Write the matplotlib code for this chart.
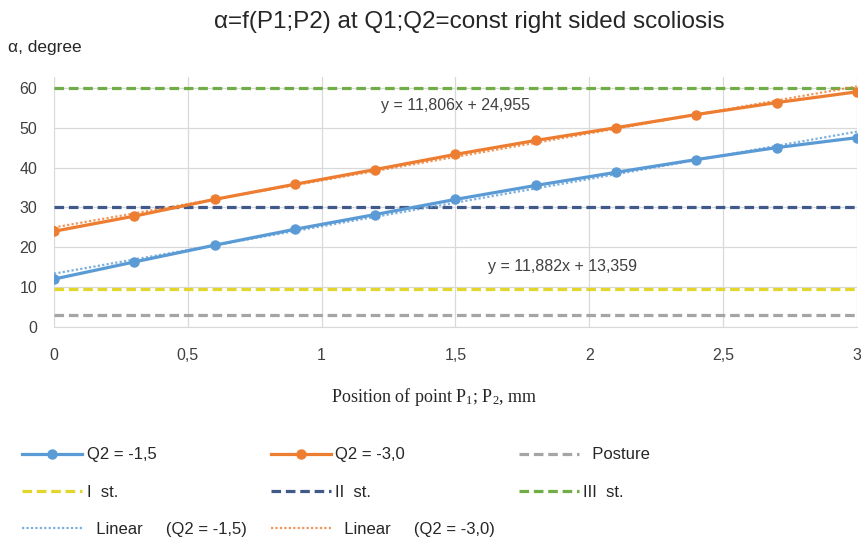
import matplotlib
matplotlib.use('Agg')
import matplotlib.pyplot as plt
from matplotlib.lines import Line2D
import numpy as np

# data
x = [0, 0.3, 0.6, 0.9, 1.2, 1.5, 1.8, 2.1, 2.4, 2.7, 3.0]
q2_15 = [12, 16.3, 20.5, 24.5, 28.2, 32, 35.5, 38.8, 42, 45, 47.5]
q2_30 = [24, 27.8, 32, 35.8, 39.5, 43.3, 46.8, 50, 53.3, 56.3, 59]

posture = 3
st1 = 9.5
st2 = 30
st3 = 60

fit_15 = (11.882, 13.359)
fit_30 = (11.806, 24.955)

xticks = [0, 0.5, 1, 1.5, 2, 2.5, 3]
xticklabels = ['0', '0,5', '1', '1,5', '2', '2,5', '3']
yticks = [0, 10, 20, 30, 40, 50, 60]

BLUE = '#5b9bd5'
ORANGE = '#ed7d31'
GRAY = '#a5a5a5'
YELLOW = '#e3d62a'
NAVY = '#3f5a8a'
GREEN = '#70ad47'
TXT = '#262626'

plt.rcParams['font.family'] = ['Liberation Sans', 'DejaVu Sans']
plt.rcParams['mathtext.fontset'] = 'custom'
plt.rcParams['mathtext.rm'] = 'Liberation Serif'
plt.rcParams['mathtext.it'] = 'Liberation Serif'

fig = plt.figure(figsize=(8.62, 5.43), dpi=100)
ax = fig.add_axes([0.0626, 0.398, 0.9314, 0.46])

dash = (0, (3, 1.5))
dots = (0, (1, 1))
xs = np.array([0, 3])

ax.axhline(posture, color=GRAY, lw=2.3, ls=dash, zorder=2)
ax.axhline(st1, color=YELLOW, lw=2.3, ls=dash, zorder=2)
ax.axhline(st2, color=NAVY, lw=2.3, ls=dash, zorder=2)
ax.axhline(st3, color=GREEN, lw=2.3, ls=dash, zorder=2)

ax.plot(x, q2_15, color=BLUE, lw=2.3, marker='o', ms=6.5, zorder=4)
ax.plot(x, q2_30, color=ORANGE, lw=2.3, marker='o', ms=6.5, zorder=4)
ax.plot(xs, fit_15[0] * xs + fit_15[1], color=BLUE, lw=1.6, ls=dots, alpha=0.8, zorder=5)
ax.plot(xs, fit_30[0] * xs + fit_30[1], color=ORANGE, lw=1.6, ls=dots, alpha=0.8, zorder=5)

ax.text(1.50, 55.6, 'y = 11,806x + 24,955', fontsize=11.5, color='#404040', ha='center', va='center')
ax.text(1.90, 15.2, 'y = 11,882x + 13,359', fontsize=11.5, color='#404040', ha='center', va='center')

ax.set_xlim(0, 3)
ax.set_ylim(0, 62.7)
ax.set_xticks(xticks)
ax.set_xticklabels(xticklabels)
ax.set_yticks(yticks)
ax.tick_params(length=0, labelsize=11.5, labelcolor='#404040')
ax.tick_params(axis='x', pad=15)
ax.tick_params(axis='y', pad=12)
ax.grid(True, color='#d9d9d9', lw=0.9)
for s in ['top', 'right', 'left']:
    ax.spines[s].set_visible(False)
ax.spines['bottom'].set_color('#d9d9d9')
ax.set_axisbelow(True)

fig.text(0.545, 0.960, 'α=f(P1;P2) at Q1;Q2=const right sided scoliosis', fontsize=17.5,
         ha='center', va='center', color=TXT)
fig.text(0.009, 0.913, 'α, degree', fontsize=12.5, ha='left', va='center', color=TXT)
fig.text(0.504, 0.268, r'Position of point P$_1$; P$_2$, mm', fontsize=13, ha='center', va='center',
         family=['Liberation Serif', 'DejaVu Serif'], color=TXT)

# legend, one column at a time
columns = [
    (0.026, [Line2D([], [], color=BLUE, lw=2.3, marker='o', ms=6.5),
             Line2D([], [], color=YELLOW, lw=2.3, ls=dash),
             Line2D([], [], color=BLUE, lw=1.6, ls=dots, alpha=0.8)],
     ['Q2 = -1,5', 'I  st.', '  Linear     (Q2 = -1,5)']),
    (0.314, [Line2D([], [], color=ORANGE, lw=2.3, marker='o', ms=6.5),
             Line2D([], [], color=NAVY, lw=2.3, ls=dash),
             Line2D([], [], color=ORANGE, lw=1.6, ls=dots, alpha=0.8)],
     ['Q2 = -3,0', 'II  st.', '  Linear     (Q2 = -3,0)']),
    (0.602, [Line2D([], [], color=GRAY, lw=2.3, ls=dash),
             Line2D([], [], color=GREEN, lw=2.3, ls=dash)],
     ['  Posture', 'III  st.']),
]
for xpos, hs, ls_ in columns:
    fig.legend(hs, ls_, loc='upper left', bbox_to_anchor=(xpos, 0.176),
               frameon=False, fontsize=12, handlelength=3.6, handletextpad=0.25,
               labelspacing=1.33, borderpad=0, borderaxespad=0, labelcolor=TXT)

fig.savefig('out.png', dpi=100)
